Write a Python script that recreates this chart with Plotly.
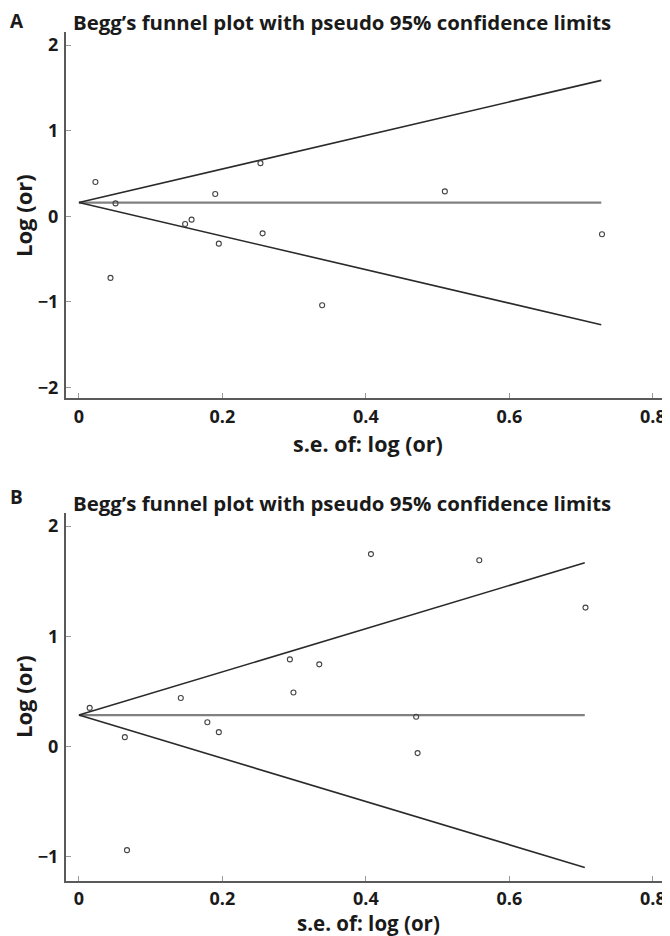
import plotly.graph_objects as go

# ---- data ----
se_a = [0.023, 0.051, 0.044, 0.148, 0.157, 0.190, 0.195, 0.253, 0.256, 0.339, 0.510, 0.729]
lor_a = [0.40, 0.15, -0.72, -0.09, -0.04, 0.26, -0.32, 0.62, -0.20, -1.04, 0.29, -0.21]
theta_a = 0.16
semax_a = 0.728

se_b = [0.015, 0.064, 0.067, 0.142, 0.179, 0.195, 0.294, 0.299, 0.335, 0.407, 0.558, 0.706, 0.470, 0.472]
lor_b = [0.35, 0.085, -0.94, 0.44, 0.22, 0.13, 0.79, 0.49, 0.745, 1.745, 1.69, 1.26, 0.27, -0.06]
theta_b = 0.285
semax_b = 0.705

x_ticks = [0, 0.2, 0.4, 0.6, 0.8]
x_ticktext = ["0", "0.2", "0.4", "0.6", "0.8"]
ya_ticks = [-2, -1, 0, 1, 2]
ya_ticktext = ["\u22122", "\u22121", "0", "1", "2"]
yb_ticks = [-1, 0, 1, 2]
yb_ticktext = ["\u22121", "0", "1", "2"]

title_text = "Begg\u2019s funnel plot with pseudo 95% confidence limits"

# page body has an 8px margin; figure sits at (8, 8) in the 670x936 window
OFF = 8
W, H = 670 - OFF, 936 - OFF
FONT = "Open Sans"

fig = go.Figure()

def add_panel(se, lor, theta, semax, xa, ya):
    xs = [0, semax]
    fig.add_trace(go.Scatter(x=xs, y=[theta, theta], mode="lines",
                             line=dict(color="#808080", width=2.2), xaxis=xa, yaxis=ya,
                             showlegend=False, hoverinfo="skip"))
    fig.add_trace(go.Scatter(x=xs, y=[theta, theta + 1.96 * semax], mode="lines",
                             line=dict(color="#2a2a2a", width=1.6), xaxis=xa, yaxis=ya,
                             showlegend=False, hoverinfo="skip"))
    fig.add_trace(go.Scatter(x=xs, y=[theta, theta - 1.96 * semax], mode="lines",
                             line=dict(color="#2a2a2a", width=1.6), xaxis=xa, yaxis=ya,
                             showlegend=False, hoverinfo="skip"))
    fig.add_trace(go.Scatter(x=se, y=lor, mode="markers",
                             marker=dict(symbol="circle-open", size=5, color="#444444",
                                         line=dict(width=1.1, color="#444444")),
                             xaxis=xa, yaxis=ya, showlegend=False))

add_panel(se_a, lor_a, theta_a, semax_a, "x", "y")
add_panel(se_b, lor_b, theta_b, semax_b, "x2", "y2")

def py(p):
    return 1 - (p - OFF) / H

def px(p):
    return (p - OFF) / W

axis_common = dict(showline=True, linecolor="#5a5a5a", linewidth=2.2, ticks="inside",
                   ticklen=5, tickwidth=1, tickcolor="#999999", showgrid=False,
                   zeroline=False, mirror=False, automargin=False,
                   tickfont=dict(family=FONT, size=18, color="#1a1a1a", weight=700))

fig.update_layout(
    width=W, height=H,
    margin=dict(l=0, r=0, t=0, b=0, autoexpand=False),
    paper_bgcolor="white", plot_bgcolor="white",
    xaxis=dict(domain=[px(66), px(668)], range=[-0.018, 0.821], anchor="y",
               tickvals=x_ticks, ticktext=x_ticktext, ticklabelstandoff=1, **axis_common),
    yaxis=dict(domain=[py(398), py(32)], range=[-2.123, 2.152], anchor="x",
               tickvals=ya_ticks, ticktext=ya_ticktext, ticklabelstandoff=2, **axis_common),
    xaxis2=dict(domain=[px(66), px(668)], range=[-0.018, 0.821], anchor="y2",
                tickvals=x_ticks, ticktext=x_ticktext, ticklabelstandoff=0, **axis_common),
    yaxis2=dict(domain=[py(881), py(513)], range=[-1.22, 2.118], anchor="x2",
                tickvals=yb_ticks, ticktext=yb_ticktext, ticklabelstandoff=2, **axis_common),
)

ann = []
def text(x, y, s, size, angle=0, xanchor="center"):
    ann.append(dict(x=px(x), y=py(y), xref="paper", yref="paper", text=s, showarrow=False,
                    xanchor=xanchor, yanchor="middle", textangle=angle,
                    font=dict(family=FONT, size=size, color="#1a1a1a", weight=700)))

text(8, 21, "A", 19, xanchor="left")
text(71, 22, title_text, 20.4, xanchor="left")
text(23, 216, "Log (or)", 22, angle=-90)
text(368, 443, "s.e. of: log (or)", 21.5)

text(8, 497, "B", 19, xanchor="left")
text(71, 503, title_text, 20.4, xanchor="left")
text(23, 697, "Log (or)", 22, angle=-90)
text(368, 923, "s.e. of: log (or)", 20.5)

fig.update_layout(annotations=ann)

fig.write_html("out.html")
